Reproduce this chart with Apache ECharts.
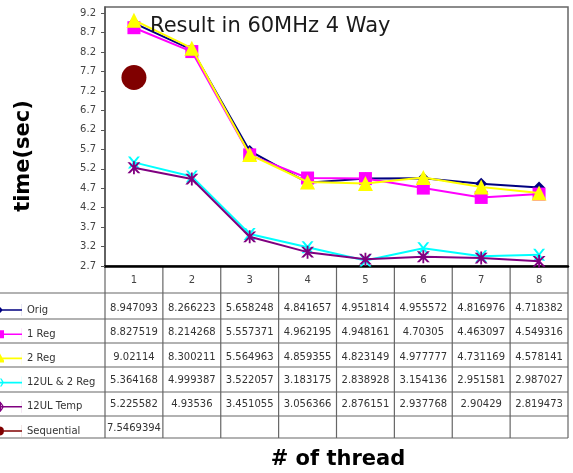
<!DOCTYPE html>
<html><head><meta charset="utf-8">
<script src="https://cdn.jsdelivr.net/npm/echarts@6/dist/echarts.min.js"></script>
<style>html,body{margin:0;padding:0;background:#fff}#c{width:573px;height:473px}</style>
</head><body><div id="c"></div>
<script>
const categories = ['1','2','3','4','5','6','7','8'];
const seriesNames = ['Orig','1 Reg','2 Reg','12UL & 2 Reg','12UL Temp','Sequential'];
const orig = [8.947093, 8.266223, 5.658248, 4.841657, 4.951814, 4.955572, 4.816976, 4.718382];
const reg1 = [8.827519, 8.214268, 5.557371, 4.962195, 4.948161, 4.70305, 4.463097, 4.549316];
const reg2 = [9.02114, 8.300211, 5.564963, 4.859355, 4.823149, 4.977777, 4.731169, 4.578141];
const ul12reg2 = [5.364168, 4.999387, 3.522057, 3.183175, 2.838928, 3.154136, 2.951581, 2.987027];
const ul12temp = [5.225582, 4.93536, 3.451055, 3.056366, 2.876151, 2.937768, 2.90429, 2.819473];
const sequential = [7.5469394, null, null, null, null, null, null, null];
const yMin = 2.7, yMax = 9.36, yStep = 0.5;

const allData = [orig, reg1, reg2, ul12reg2, ul12temp, sequential];
const colors = ['#000080','#FF00FF','#FFFF00','#00FFFF','#800080','#800000'];
const xPath = 'path://M0,0 L2,0 L5,3.6 L8,0 L10,0 L6.1,5 L10,10 L8,10 L5,6.4 L2,10 L0,10 L3.9,5 Z';
const starPath = 'path://M0,0 L2,0 L5,3.6 L8,0 L10,0 L6.1,5 L10,10 L8,10 L5,6.4 L2,10 L0,10 L3.9,5 Z M4.3,-1 L5.7,-1 L5.7,11 L4.3,11 Z';
const symbols = ['diamond','rect','triangle', xPath, starPath, 'circle'];
const sizes = [12, 13, 15, 12, 13, 25];

// legend keys: a line with the marker cut in half at the left edge
const bar = 'M0,5.2 L22,5.2 L22,6.8 L0,6.8 Z M22,0 L22,12 L21.9,12 L21.9,0 Z ';
const legendIcons = [
  'path://' + bar + 'M0,3 L3,6 L0,9 Z',
  'path://' + bar + 'M0,2 L4,2 L4,10 L0,10 Z',
  'path://' + bar + 'M0,1 L4,8 L4,10 L0,10 Z',
  'path://' + bar + 'M0,2 L1.5,2 L4,6 L1.5,10 L0,10 L2.5,6 Z',
  'path://' + bar + 'M0,2 L1.5,2 L4,6 L1.5,10 L0,10 L2.5,6 Z M0,1 L1,1 L1,11 L0,11 Z',
  'path://' + bar + 'M0,1.5 L2,2 L3.5,3.5 L4,6 L3.5,8.5 L2,10 L0,10.5 Z'
];

const chart = echarts.init(document.getElementById('c'));
const series = seriesNames.map((n,i)=>({
  name:n, type:'line', data: allData[i], symbol: symbols[i], symbolSize: sizes[i],
  showAllSymbol:true, connectNulls:false,
  lineStyle:{color:colors[i], width:2}, itemStyle:{color:colors[i]},
  z: 2+i, animation:false
}));

chart.setOption({
  animation:false,
  title:{text:'Result in 60MHz 4 Way', left:145, top:11,
    textStyle:{fontFamily:'DejaVu Sans', fontSize:21, fontWeight:'normal', color:'#1a1a1a'}},
  grid:{left:105, right:5, top:7, bottom:207, show:true, borderColor:'#666', borderWidth:1.5},
  legend:{orient:'vertical', left:0, top:304, padding:0, itemWidth:22, itemHeight:12, itemGap:12.2,
    textStyle:{fontFamily:'DejaVu Sans', fontSize:10, color:'#333', lineHeight:12},
    data: seriesNames.map((n,i)=>({name:n, icon:legendIcons[i], itemStyle:{color:colors[i]}}))},
  xAxis:{type:'category', data:categories, boundaryGap:true,
    axisLine:{lineStyle:{color:'#000', width:2.5}}, axisTick:{show:false},
    axisLabel:{margin:9, fontSize:10, fontFamily:'DejaVu Sans', color:'#444'}},
  yAxis:{type:'value', min:yMin, max:yMax, interval:yStep,
    axisLine:{show:true, lineStyle:{color:'#555', width:1.5}},
    axisTick:{show:true, length:4, lineStyle:{color:'#555'}},
    splitLine:{show:false},
    axisLabel:{showMaxLabel:false, margin:9, fontSize:10, fontFamily:'DejaVu Sans', color:'#444',
      formatter:v=>v.toFixed(1)}},
  series: series
});

// Data table below the plot
const rowLines = [293, 319, 343, 367, 392, 416, 438];
const rowText = [308, 332, 357, 380, 404, 428];
const left = 105, right = 568;
const colW = (right-left)/categories.length;
const g = [];
rowLines.forEach(y=>g.push({type:'line', shape:{x1:0,y1:y,x2:right,y2:y}, style:{stroke:'#666', lineWidth:1.2}, silent:true}));
for(let k=0;k<=categories.length;k++){
  const x = left + k*colW;
  g.push({type:'line', shape:{x1:x,y1:266,x2:x,y2:438}, style:{stroke:'#666', lineWidth:1.2}, silent:true});
}
allData.forEach((arr,r)=>{
  arr.forEach((v,c)=>{
    if(v===null) return;
    const cx = chart.convertToPixel({xAxisIndex:0}, c);
    g.push({type:'text', x:cx, y:rowText[r], style:{text:String(v), align:'center', verticalAlign:'middle',
      font:'10px "DejaVu Sans"', fill:'#333'}, silent:true});
  });
});
g.push({type:'text', x:338, y:460, style:{text:'# of thread', align:'center', verticalAlign:'middle',
  font:'bold 21px "DejaVu Sans"', fill:'#000'}, silent:true});
g.push({type:'text', x:24, y:156, rotation:Math.PI/2, style:{text:'time(sec)', align:'center', verticalAlign:'middle',
  font:'bold 21px "DejaVu Sans"', fill:'#000'}, silent:true});
chart.setOption({graphic:g});
</script></body></html>
